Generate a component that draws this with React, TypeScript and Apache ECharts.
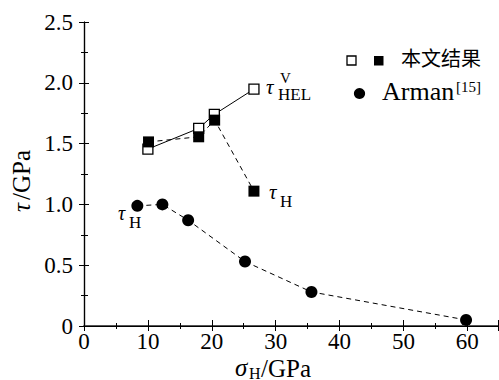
import React, { useEffect, useRef } from "react";
import * as echarts from "echarts";

const helX = [10.0, 17.95, 20.4, 26.6];
const helY = [1.455, 1.625, 1.74, 1.948];
const hX = [10.1, 17.95, 20.45, 26.6];
const hY = [1.514, 1.556, 1.693, 1.109];
const armanX = [8.35, 12.27, 16.3, 25.2, 35.6, 59.8];
const armanY = [0.988, 1.0, 0.87, 0.53, 0.28, 0.05];
const legendMain = "本文结果";
const legendArman = "Arman";
const legendRef = "[15]";

const SERIF = "'Liberation Serif', 'Times New Roman', serif";

function pairs(xs: number[], ys: number[]) {
  return xs.map((x, i) => [x, ys[i]]);
}

export default function App() {
  const ref = useRef<HTMLDivElement>(null);
  useEffect(() => {
    if (!ref.current) return;
    const chart = echarts.init(ref.current, undefined, { renderer: "svg" });
    const tickLabel = { fontFamily: SERIF, fontSize: 23, color: "#000" };
    const txt = (x: number, y: number, text: string, size: number, extra: any = {}) => ({
      type: "text",
      x,
      y,
      style: {
        text,
        fontFamily: SERIF,
        fontSize: size,
        fill: "#000",
        verticalAlign: "middle",
        align: "left",
        ...extra,
      },
    });
    chart.setOption({
      animation: false,
      backgroundColor: "#fff",
      grid: { left: 84, right: 1, top: 22, bottom: 54 },
      xAxis: [
        {
          type: "value",
          min: 0,
          max: 64.8,
          interval: 10,
          axisLine: { lineStyle: { color: "#555", width: 2 } },
          axisTick: { inside: true, length: 6, lineStyle: { color: "#000" } },
          minorTick: { show: true, splitNumber: 2, length: 3, lineStyle: { color: "#000" } },
          splitLine: { show: false },
          axisLabel: { ...tickLabel, margin: 6, lineHeight: 18 },
        },
        {
          type: "value",
          position: "top",
          min: 0,
          max: 64.8,
          interval: 10,
          axisLine: { show: true, lineStyle: { color: "#000", width: 1.2 } },
          axisTick: { inside: true, length: 5, lineStyle: { color: "#000" } },
          minorTick: { show: true, splitNumber: 2, length: 3, lineStyle: { color: "#000" } },
          splitLine: { show: false },
          axisLabel: { show: false },
        },
      ],
      yAxis: [
        {
          type: "value",
          min: 0,
          max: 2.5,
          interval: 0.5,
          axisLine: { show: true, lineStyle: { color: "#000", width: 1.2 } },
          axisTick: { inside: true, length: 5, lineStyle: { color: "#000" } },
          minorTick: { show: true, splitNumber: 2, length: 4, lineStyle: { color: "#000" } },
          splitLine: { show: false },
          axisLabel: {
            ...tickLabel,
            margin: 11,
            formatter: (v: number) => (v === 0 ? "0" : v.toFixed(1)),
          },
        },
        {
          type: "value",
          position: "right",
          min: 0,
          max: 2.5,
          interval: 0.5,
          axisLine: { show: true, lineStyle: { color: "#000", width: 1.2 } },
          axisTick: { inside: true, length: 5, lineStyle: { color: "#000" } },
          minorTick: { show: true, splitNumber: 2, length: 3, lineStyle: { color: "#000" } },
          splitLine: { show: false },
          axisLabel: { show: false },
        },
      ],
      series: [
        {
          type: "line",
          data: pairs(helX, helY),
          symbol: "rect",
          symbolSize: 10,
          itemStyle: { color: "#fff", borderColor: "#000", borderWidth: 1.3 },
          lineStyle: { color: "#000", width: 1, type: "solid" },
          z: 2,
        },
        {
          type: "line",
          data: pairs(hX, hY),
          symbol: "rect",
          symbolSize: 11,
          itemStyle: { color: "#000", borderColor: "#000", borderWidth: 0 },
          lineStyle: { color: "#000", width: 1, type: [5, 4] },
          z: 3,
        },
        {
          type: "line",
          data: pairs(armanX, armanY),
          symbol: "circle",
          symbolSize: 12,
          itemStyle: { color: "#000", borderWidth: 0 },
          lineStyle: { color: "#000", width: 1, type: [5, 4] },
          z: 3,
        },
      ],
      graphic: [
        // legend
        {
          type: "rect",
          shape: { x: 347, y: 56, width: 9, height: 9 },
          style: { fill: "#fff", stroke: "#000", lineWidth: 1.3 },
        },
        {
          type: "rect",
          shape: { x: 374, y: 56, width: 9.5, height: 9.5 },
          style: { fill: "#000" },
        },
        txt(401, 57, legendMain, 20, { fontFamily: "'Noto Sans CJK SC'" }),
        {
          type: "circle",
          shape: { cx: 359.5, cy: 93.5, r: 5.6 },
          style: { fill: "#000" },
        },
        txt(382, 91, legendArman, 26),
        txt(456, 87, legendRef, 15, { lineHeight: 14 }),
        // annotations
        txt(266, 87, "τ", 21, { fontStyle: "italic", lineHeight: 14 }),
        txt(280, 78, "V", 15, { lineHeight: 12 }),
        txt(278, 94.5, "HEL", 17, { lineHeight: 12 }),
        txt(269, 192, "τ", 21, { fontStyle: "italic", lineHeight: 14 }),
        txt(280, 201, "H", 17, { lineHeight: 12 }),
        txt(118, 213, "τ", 20, { fontStyle: "italic", lineHeight: 14 }),
        txt(129, 222, "H", 17, { lineHeight: 12 }),
        // x axis name
        txt(235, 367, "σ", 25, { fontStyle: "italic", lineHeight: 18 }),
        txt(249, 373, "H", 16, { lineHeight: 12 }),
        txt(261, 368, "/GPa", 25, { lineHeight: 20 }),
        // y axis name
        {
          type: "group",
          x: 21,
          y: 180,
          rotation: Math.PI / 2,
          children: [
            txt(-32, 0, "τ", 25, { fontStyle: "italic" }),
            txt(-20, 0, "/GPa", 25),
          ],
        },
      ],
    });
    return () => chart.dispose();
  }, []);
  return (
    <div
      ref={ref}
      style={{ position: "fixed", left: 0, top: 0, width: 499, height: 380 }}
    />
  );
}
